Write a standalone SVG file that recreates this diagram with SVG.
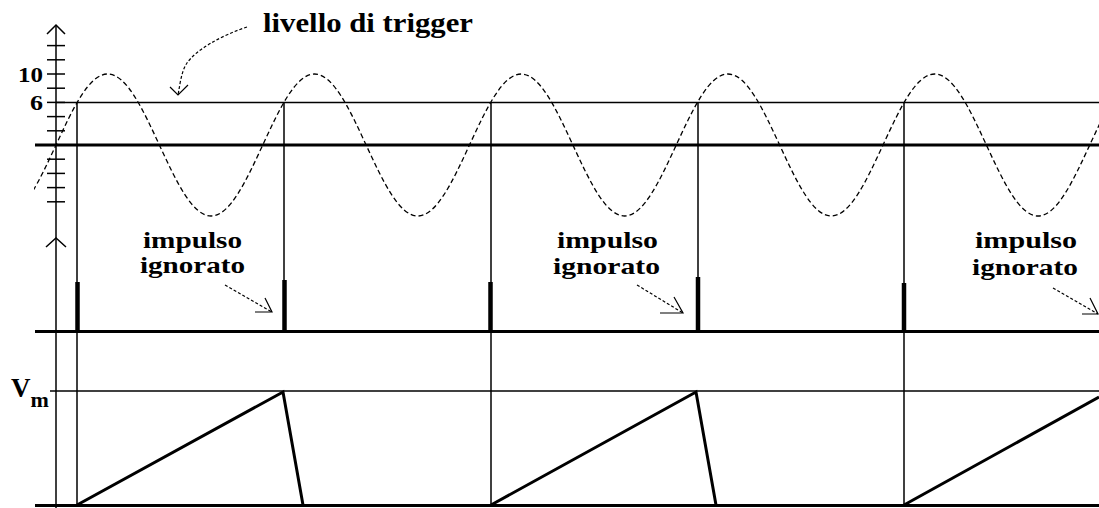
<svg xmlns="http://www.w3.org/2000/svg" width="1099" height="508" viewBox="0 0 1099 508">
<style>
.thin{stroke:#000;stroke-width:1.5;fill:none}
.thick{stroke:#000;stroke-width:3;fill:none}
.pulse{stroke:#000;stroke-width:4.5;fill:none}
.sine{stroke:#000;stroke-width:1.3;fill:none;stroke-dasharray:5 3}
.dash{stroke:#000;stroke-width:1.2;fill:none;stroke-dasharray:3 2}
.head{stroke:#000;stroke-width:1.2;fill:none}
.lbl{font-family:"Liberation Serif",serif;font-weight:bold;fill:#000}
</style>
<defs>
<clipPath id="clip"><rect x="34" y="0" width="1065" height="508"/></clipPath>
</defs>
<rect width="1099" height="508" fill="#fff"/>

<g id="axes">
<line class="thin" x1="56" y1="25" x2="56" y2="508"/>
<polyline class="thin" points="47,34 56,25 65,34"/>
<polyline class="thin" points="46,247 56,238 66,247"/>
<g class="thin">
<line x1="47" y1="45.6" x2="65" y2="45.6"/>
<line x1="47" y1="59.8" x2="65" y2="59.8"/>
<line x1="47" y1="74" x2="65" y2="74"/>
<line x1="47" y1="88.2" x2="65" y2="88.2"/>
<line x1="47" y1="102.4" x2="65" y2="102.4"/>
<line x1="47" y1="116.6" x2="65" y2="116.6"/>
<line x1="47" y1="130.8" x2="65" y2="130.8"/>
<line x1="47" y1="159.2" x2="65" y2="159.2"/>
<line x1="47" y1="173.4" x2="65" y2="173.4"/>
<line x1="47" y1="187.6" x2="65" y2="187.6"/>
<line x1="47" y1="201.8" x2="65" y2="201.8"/>
</g>
<line class="thick" x1="35" y1="145" x2="1099" y2="145"/>
<line class="thick" x1="35" y1="331.5" x2="1099" y2="331.5"/>
<line class="thick" x1="35" y1="505.5" x2="1099" y2="505.5"/>
<line class="thin" x1="50" y1="391" x2="1099" y2="391" style="stroke-width:1.3"/>
<text class="lbl" x="18" y="82" font-size="22" textLength="25" lengthAdjust="spacingAndGlyphs">10</text>
<text class="lbl" x="30" y="110" font-size="22" textLength="13" lengthAdjust="spacingAndGlyphs">6</text>
<text class="lbl" x="11" y="397" font-size="27">V<tspan dy="10" font-size="22">m</tspan></text>
</g>

<g id="trigger-level">
<line class="thin" x1="56" y1="102.4" x2="1099" y2="102.4"/>
</g>

<g id="sine-wave" clip-path="url(#clip)">
<path class="sine" d="M4.3125,216
c18.705,0 34.83,-34.628 51.6875,-71 c16.857,-36.372 32.982,-71 51.6875,-71 c18.705,0 34.83,34.628 51.6875,71 c16.857,36.372 32.982,71 51.6875,71
c18.705,0 34.83,-34.628 51.6875,-71 c16.857,-36.372 32.982,-71 51.6875,-71 c18.705,0 34.83,34.628 51.6875,71 c16.857,36.372 32.982,71 51.6875,71
c18.705,0 34.83,-34.628 51.6875,-71 c16.857,-36.372 32.982,-71 51.6875,-71 c18.705,0 34.83,34.628 51.6875,71 c16.857,36.372 32.982,71 51.6875,71
c18.705,0 34.83,-34.628 51.6875,-71 c16.857,-36.372 32.982,-71 51.6875,-71 c18.705,0 34.83,34.628 51.6875,71 c16.857,36.372 32.982,71 51.6875,71
c18.705,0 34.83,-34.628 51.6875,-71 c16.857,-36.372 32.982,-71 51.6875,-71 c18.705,0 34.83,34.628 51.6875,71 c16.857,36.372 32.982,71 51.6875,71
c18.705,0 34.83,-34.628 51.6875,-71 c16.857,-36.372 32.982,-71 51.6875,-71"/>
</g>

<g id="trigger-verticals">
<line class="thin" x1="77" y1="102" x2="77" y2="506"/>
<line class="thin" x1="284" y1="102" x2="284" y2="331"/>
<line class="thin" x1="491" y1="102" x2="491" y2="506"/>
<line class="thin" x1="698" y1="102" x2="698" y2="331"/>
<line class="thin" x1="904" y1="102" x2="904" y2="506"/>
</g>

<g id="pulses">
<line class="pulse" x1="77.5" y1="282" x2="77.5" y2="331"/>
<line class="pulse" x1="284.5" y1="280" x2="284.5" y2="331"/>
<line class="pulse" x1="490.5" y1="282" x2="490.5" y2="331"/>
<line class="pulse" x1="698" y1="277" x2="698" y2="331"/>
<line class="pulse" x1="904" y1="283" x2="904" y2="331"/>
</g>

<g id="ramps">
<polyline class="thick" points="77,505 283,392 303,505"/>
<polyline class="thick" points="491,505 696,392 716,505"/>
<polyline class="thick" points="904,505 1099,397"/>
</g>

<g id="labels">
<text class="lbl" x="263" y="32" font-size="27" textLength="210" lengthAdjust="spacingAndGlyphs">livello di trigger</text>
<text class="lbl" x="143" y="248" font-size="24" textLength="99" lengthAdjust="spacingAndGlyphs">impulso</text>
<text class="lbl" x="140" y="273" font-size="24" textLength="105" lengthAdjust="spacingAndGlyphs">ignorato</text>
<text class="lbl" x="557" y="248" font-size="24" textLength="101" lengthAdjust="spacingAndGlyphs">impulso</text>
<text class="lbl" x="553" y="274" font-size="24" textLength="107" lengthAdjust="spacingAndGlyphs">ignorato</text>
<text class="lbl" x="975" y="248" font-size="24" textLength="102" lengthAdjust="spacingAndGlyphs">impulso</text>
<text class="lbl" x="972" y="275" font-size="24" textLength="106" lengthAdjust="spacingAndGlyphs">ignorato</text>
</g>

<g id="connectors">
<path class="dash" d="M247,27 C220,36 196,50 187,63 C181,72 180,85 178,95"/>
<polyline class="head" points="170,87 178,95 188,85"/>
<line class="dash" x1="225" y1="285" x2="272" y2="312"/>
<polyline class="head" points="265,298 272,312 255,312"/>
<line class="dash" x1="637" y1="285" x2="683" y2="313"/>
<polyline class="head" points="674,297 683,313 660,313"/>
<line class="dash" x1="1053" y1="288" x2="1098" y2="314"/>
<polyline class="head" points="1090,298 1098,314 1082,314"/>
</g>
</svg>
